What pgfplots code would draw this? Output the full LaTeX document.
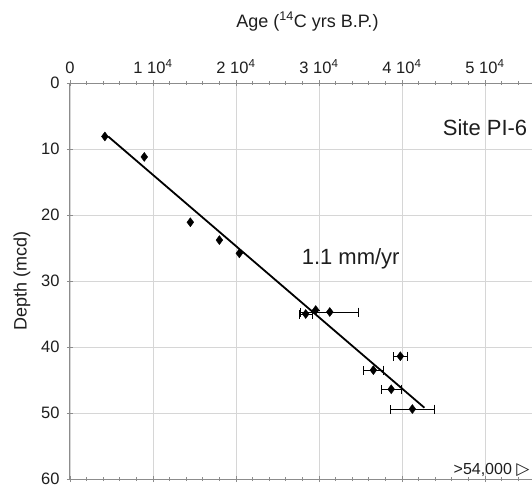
\documentclass[border=0pt]{standalone}
\usepackage{fontspec}
\setmainfont{Liberation Sans}
\newfontfamily\dejavu{DejaVu Sans}
\usepackage{pgfplots}
\pgfplotsset{compat=1.18}
\definecolor{gridgray}{RGB}{214,214,214}
\definecolor{axgray}{RGB}{140,140,140}
\definecolor{txt}{RGB}{30,30,30}

\begin{document}
\begin{tikzpicture}
% picture is cropped on the right, as in the original figure
\useasboundingbox (-70pt,-6pt) rectangle (462pt,479pt);
\clip (-70pt,-6pt) rectangle (462pt,479pt);
\begin{axis}[
    at={(0pt,0pt)}, anchor=south west,
    scale only axis, width=498pt, height=396pt,
    xmin=0, xmax=60000, ymin=0, ymax=60, y dir=reverse,
    clip=false,
    scaled x ticks=false,
    xtick={0,10000,20000,30000,40000,50000,60000},
    xticklabels={0,1 10\textsuperscript{4},2 10\textsuperscript{4},3 10\textsuperscript{4},4 10\textsuperscript{4},5 10\textsuperscript{4},{}},
    ytick={0,10,20,30,40,50,60},
    yticklabels={0,10,20,30,40,50,60},
    minor x tick num=4,
    xticklabel pos=right, ytick pos=left,
    tick align=center,
    major tick length=6pt, minor tick length=4pt,
    tick style={axgray, line width=0.8pt},
    axis line style={axgray, line width=1pt},
    grid=major, grid style={gridgray, line width=0.8pt},
    tick label style={font=\fontsize{16.5}{18}\selectfont, text=txt},
    xticklabel style={yshift=3pt},
    yticklabel style={xshift=-4pt},
    ylabel={Depth (mcd)},
    ylabel style={font=\fontsize{18}{20}\selectfont, text=txt, yshift=4pt},
]
% regression line
\addplot[black, line width=1.8pt] coordinates {(4600,8.1) (42700,49.2)};
% dated samples
\addplot[only marks, mark=diamond*, mark size=4.5pt, black,
    error bars/.cd, x dir=both, x explicit,
    error bar style={black, line width=0.9pt},
    error mark options={black, line width=0.9pt, mark size=4.5pt, rotate=90}]
  coordinates {
    (4200,8.1)
    (8950,11.2)
    (14500,21.1)
    (18000,23.8)
    (20400,25.8)
    (28400,35.0) +- (800,0)
    (29600,34.4) +- (0,0)
    (31300,34.7) +- (3500,0)
    (39800,41.4) +- (800,0)
    (36550,43.5) +- (1250,0)
    (38700,46.4) +- (1200,0)
    (41250,49.4) +- (2650,0)
  };
\node[font=\fontsize{18}{20}\selectfont, text=txt] at (axis cs:28600,-9.3) {Age (\textsuperscript{14}C yrs B.P.)};
\node[font=\fontsize{22}{24}\selectfont, text=txt, anchor=west, inner sep=0pt] at (axis cs:44900,6.7) {Site PI-6};
\node[font=\fontsize{22}{24}\selectfont, text=txt, anchor=west, inner sep=0pt] at (axis cs:27900,26.7) {1.1 mm/yr};
\node[font=\fontsize{16}{18}\selectfont, text=txt, anchor=west, inner sep=0pt] at (axis cs:46200,58.6) {>54,000 {\dejavu\fontsize{17}{18}\selectfont ▷}};
\end{axis}
\end{tikzpicture}
\end{document}
